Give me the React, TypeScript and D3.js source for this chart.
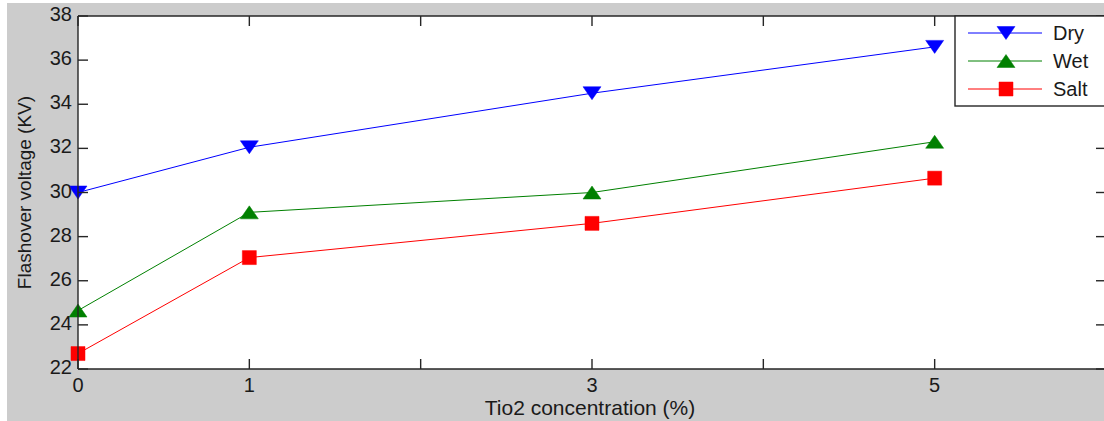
import React from "react";
import * as d3 from "d3";

const concentrations = [0, 1, 3, 5];
const xTicks = [0, 1, 2, 3, 4, 5, 6];
const xTickLabels = ["0", "1", "", "3", "", "5", ""];
const yTicks = [22, 24, 26, 28, 30, 32, 34, 36, 38];
const dryValues = [30, 32.05, 34.5, 36.6];
const wetValues = [24.65, 29.1, 30.0, 32.3];
const saltValues = [22.7, 27.05, 28.6, 30.65];
const seriesNames = ["Dry", "Wet", "Salt"];
const seriesColors = ["#0000ff", "#008000", "#ff0000"];
const seriesMarkers = ["down", "up", "square"];

const W = 1104;
const H = 421;
const left = 78;
const right = 1106;
const top = 16;
const bottom = 369;

function markerPath(kind: string, cx: number, cy: number): string {
  if (kind === "down") {
    const w = 9, h = 6.5;
    return `M${cx - w},${cy - h}L${cx + w},${cy - h}L${cx},${cy + h}Z`;
  }
  if (kind === "up") {
    const w = 9, h = 6.5;
    return `M${cx - w},${cy + h}L${cx + w},${cy + h}L${cx},${cy - h}Z`;
  }
  const s = 7;
  return `M${cx - s},${cy - s}L${cx + s},${cy - s}L${cx + s},${cy + s}L${cx - s},${cy + s}Z`;
}

export default function App() {
  const x = d3.scaleLinear().domain([0, 6]).range([left, right]);
  const y = d3.scaleLinear().domain([22, 38]).range([bottom, top]);
  const allSeries = [dryValues, wetValues, saltValues];
  const line = d3
    .line<[number, number]>()
    .x((d) => x(d[0]))
    .y((d) => y(d[1]));
  const font = "Arial, 'Liberation Sans', sans-serif";
  const tickLen = 10;
  const axisColor = "#262626";

  const legendX = 955;
  const legendY = top;
  const legendRows = [33, 61, 89];

  return (
    <svg
      width={W}
      height={H}
      style={{ position: "absolute", left: 0, top: 0 }}
      fontFamily={font}
    >
      <rect x={0} y={0} width={W} height={H} fill="#ffffff" />
      <rect x={7} y={3} width={W - 7} height={H - 3} fill="#cccccc" />
      <rect x={left} y={top} width={right - left} height={bottom - top} fill="#ffffff" />

      {/* series */}
      {allSeries.map((vals, i) => {
        const pts = concentrations.map((c, j) => [c, vals[j]] as [number, number]);
        return (
          <g key={seriesNames[i]}>
            <path d={line(pts) || ""} fill="none" stroke={seriesColors[i]} strokeWidth={1} />
            {pts.map((p, j) => (
              <path
                key={j}
                d={markerPath(seriesMarkers[i], x(p[0]), y(p[1]))}
                fill={seriesColors[i]}
                stroke={seriesColors[i]}
                strokeWidth={0.5}
              />
            ))}
          </g>
        );
      })}

      {/* axes box */}
      <g stroke={axisColor} strokeWidth={1.4} fill="none">
        <line x1={left} y1={top} x2={right} y2={top} />
        <line x1={left} y1={bottom} x2={right} y2={bottom} />
        <line x1={left} y1={top} x2={left} y2={bottom} />
        <line x1={right} y1={top} x2={right} y2={bottom} />
        {xTicks.map((t) => (
          <g key={"xt" + t}>
            <line x1={x(t)} x2={x(t)} y1={bottom} y2={bottom - tickLen} />
            <line x1={x(t)} x2={x(t)} y1={top} y2={top + tickLen} />
          </g>
        ))}
        {yTicks.map((t) => (
          <g key={"yt" + t}>
            <line x1={left} x2={left + tickLen} y1={y(t)} y2={y(t)} />
            <line x1={right - tickLen} x2={right} y1={y(t)} y2={y(t)} />
          </g>
        ))}
      </g>

      {/* tick labels */}
      <g fontSize={20} fill="#1a1a1a">
        {xTicks.map((t, i) => (
          <text key={"xl" + t} x={x(t)} y={392} textAnchor="middle">
            {xTickLabels[i]}
          </text>
        ))}
        {yTicks.map((t) => (
          <text key={"yl" + t} x={72} y={y(t) + 5} textAnchor="end">
            {t}
          </text>
        ))}
      </g>

      {/* axis labels */}
      <text x={590} y={415} textAnchor="middle" fontSize={21} fill="#1a1a1a">
        Tio2 concentration (%)
      </text>
      <text
        transform={`translate(31,${(top + bottom) / 2}) rotate(-90)`}
        textAnchor="middle"
        fontSize={19}
        fill="#1a1a1a"
      >
        Flashover voltage (KV)
      </text>

      {/* legend */}
      <rect x={legendX} y={legendY} width={W - legendX + 10} height={106 - legendY} fill="#ffffff" stroke={axisColor} strokeWidth={1.4} />
      {seriesNames.map((name, i) => (
        <g key={"lg" + name}>
          <line x1={968} x2={1042} y1={legendRows[i]} y2={legendRows[i]} stroke={seriesColors[i]} strokeWidth={1} />
          <path d={markerPath(seriesMarkers[i], 1006, legendRows[i])} fill={seriesColors[i]} stroke={seriesColors[i]} strokeWidth={0.5} />
          <text x={1053} y={legendRows[i] + 7} fontSize={20} fill="#1a1a1a">
            {name}
          </text>
        </g>
      ))}
    </svg>
  );
}
